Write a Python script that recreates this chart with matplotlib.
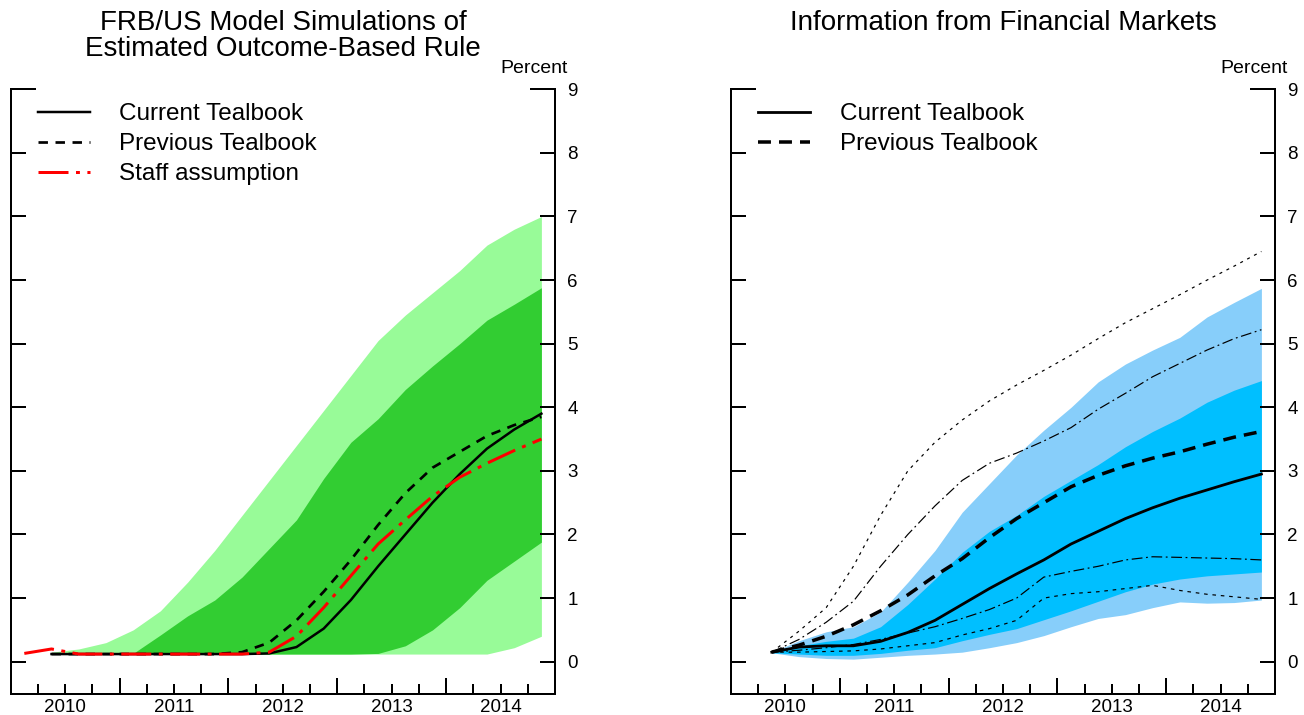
import matplotlib
matplotlib.use("Agg")
import matplotlib.pyplot as plt
import numpy as np
from matplotlib.ticker import FixedLocator, FuncFormatter, NullFormatter

plt.rcParams['font.family'] = ['Liberation Sans', 'DejaVu Sans']

# ---------------- data ----------------
# quarterly, plotted at mid-quarter
q_left_red = [2010.125 + 0.25 * i for i in range(20)]
q_main = [2010.375 + 0.25 * i for i in range(19)]

# Left panel: FRB/US simulations
left_outer_upper = [0.15, 0.2, 0.3, 0.5, 0.8, 1.25, 1.75, 2.3, 2.85, 3.4, 3.95, 4.5, 5.05, 5.45, 5.8, 6.15, 6.55, 6.8, 7.0]
left_outer_lower = [0.12] * 17 + [0.22, 0.4]
left_inner_upper = [0.12, 0.12, 0.12, 0.13, 0.42, 0.72, 0.97, 1.33, 1.78, 2.23, 2.88, 3.45, 3.82, 4.28, 4.65, 5.0, 5.37, 5.62, 5.88]
left_inner_lower = [0.12] * 12 + [0.13, 0.25, 0.5, 0.85, 1.28, 1.58, 1.88]
left_current = [0.12] * 8 + [0.13, 0.23, 0.52, 0.97, 1.5, 2.0, 2.5, 2.95, 3.35, 3.65, 3.9]
left_previous = [0.12] * 7 + [0.15, 0.3, 0.65, 1.1, 1.6, 2.15, 2.65, 3.05, 3.3, 3.55, 3.72, 3.85]
left_staff = [0.13, 0.2] + [0.12] * 7 + [0.15, 0.4, 0.85, 1.35, 1.85, 2.23, 2.6, 2.9, 3.12, 3.32, 3.5]

# Right panel: financial markets
right_outer_upper = [0.15, 0.33, 0.47, 0.55, 0.78, 1.25, 1.75, 2.35, 2.8, 3.25, 3.64, 4.0, 4.4, 4.68, 4.9, 5.1, 5.42, 5.65, 5.87]
right_outer_lower = [0.14, 0.08, 0.05, 0.04, 0.07, 0.1, 0.12, 0.15, 0.22, 0.3, 0.41, 0.55, 0.68, 0.74, 0.85, 0.94, 0.92, 0.93, 0.97]
right_inner_upper = [0.15, 0.25, 0.32, 0.37, 0.55, 0.9, 1.3, 1.72, 2.05, 2.3, 2.6, 2.85, 3.1, 3.38, 3.62, 3.83, 4.08, 4.27, 4.42]
right_inner_lower = [0.14, 0.12, 0.1, 0.1, 0.13, 0.18, 0.22, 0.33, 0.43, 0.52, 0.66, 0.8, 0.95, 1.1, 1.22, 1.3, 1.35, 1.38, 1.41]
right_current = [0.15, 0.23, 0.25, 0.25, 0.32, 0.46, 0.65, 0.9, 1.15, 1.38, 1.6, 1.85, 2.05, 2.25, 2.42, 2.57, 2.7, 2.83, 2.95]
right_previous = [0.15, 0.26, 0.4, 0.58, 0.8, 1.05, 1.35, 1.62, 1.95, 2.25, 2.5, 2.75, 2.93, 3.08, 3.2, 3.3, 3.42, 3.53, 3.62]
right_thin_top = [0.15, 0.48, 0.85, 1.5, 2.3, 3.0, 3.45, 3.8, 4.1, 4.35, 4.58, 4.82, 5.08, 5.33, 5.55, 5.77, 6.0, 6.22, 6.45]
right_thin_upper = [0.15, 0.35, 0.62, 0.95, 1.5, 2.0, 2.45, 2.85, 3.12, 3.28, 3.47, 3.68, 3.97, 4.22, 4.48, 4.69, 4.9, 5.08, 5.22]
right_thin_lower = [0.15, 0.18, 0.22, 0.27, 0.35, 0.45, 0.55, 0.68, 0.82, 1.0, 1.33, 1.42, 1.5, 1.6, 1.65, 1.64, 1.63, 1.62, 1.6]
right_thin_bottom = [0.15, 0.15, 0.16, 0.17, 0.2, 0.25, 0.3, 0.42, 0.52, 0.65, 1.0, 1.07, 1.1, 1.15, 1.2, 1.12, 1.06, 1.02, 0.98]

years = [2010, 2011, 2012, 2013, 2014]
yticks = list(range(0, 10))
titles = ["FRB/US Model Simulations of\nEstimated Outcome-Based Rule", "Information from Financial Markets"]

# ---------------- figure ----------------
W, H = 1304, 715
fig = plt.figure(figsize=(W / 100, H / 100), dpi=100)
axL = fig.add_axes([10.7 / W, 21 / H, 544.3 / W, 604.7 / H])
axR = fig.add_axes([731 / W, 21 / H, 544 / W, 604.7 / H])

PX = 0.72  # points per pixel


def style_axes(ax):
    ax.set_xlim(2010, 2015)
    ax.set_ylim(-0.508, 9.0)
    ax.spines['top'].set_visible(False)
    for s in ['left', 'right', 'bottom']:
        ax.spines[s].set_linewidth(2 * PX)
    ax.set_yticks(yticks)
    ax.tick_params(axis='y', which='both', left=True, right=True, labelleft=False,
                   labelright=True, direction='in', length=15 * PX, width=2 * PX,
                   pad=9, labelsize=13.5)
    ax.xaxis.set_major_locator(FixedLocator([y for y in years] + [2015]))
    ax.xaxis.set_major_formatter(NullFormatter())
    minor = [y + f for y in years for f in (0.25, 0.5, 0.75)]
    ax.xaxis.set_minor_locator(FixedLocator(minor))
    ax.xaxis.set_minor_formatter(FuncFormatter(
        lambda v, p: str(int(v)) if abs(v - int(v) - 0.5) < 1e-6 else ''))
    ax.tick_params(axis='x', which='major', direction='in', length=16 * PX,
                   width=2 * PX, top=False)
    ax.tick_params(axis='x', which='minor', direction='in', length=10 * PX,
                   width=2 * PX, top=False, labelsize=13.5, pad=3.5)
    t = ax.yaxis.get_major_ticks()[-1]
    t.tick1line.set_markersize(25 * PX)
    t.tick2line.set_markersize(25 * PX)
    ax.text(0.962, 1.035, "Percent", transform=ax.transAxes, ha='center',
            va='center', fontsize=14)


style_axes(axL)
style_axes(axR)

# Left panel
axL.fill_between(q_main, left_outer_lower, left_outer_upper, color='#98FB98', lw=0)
axL.fill_between(q_main, left_inner_lower, left_inner_upper, color='#32CD32', lw=0)
axL.plot(q_main, left_current, color='black', lw=2.5 * PX, label='Current Tealbook')
axL.plot(q_main, left_previous, color='black', lw=2.7 * PX, ls=(0, (3.5, 2.8)),
         label='Previous Tealbook')
axL.plot(q_left_red, left_staff, color='#FF0000', lw=3 * PX, ls=(0, (10, 2.5, 1.3, 2.5)),
         label='Staff assumption')

# Right panel
axR.fill_between(q_main, right_outer_lower, right_outer_upper, color='#87CEFA', lw=0)
axR.fill_between(q_main, right_inner_lower, right_inner_upper, color='#00BFFF', lw=0)
axR.plot(q_main, right_thin_top, color='black', lw=1.2 * PX, ls=(0, (2.5, 4)))
axR.plot(q_main, right_thin_upper, color='black', lw=1.2 * PX, ls=(0, (9, 3, 1.5, 3)))
axR.plot(q_main, right_thin_lower, color='black', lw=1.2 * PX, ls=(0, (9, 3, 1.5, 3)))
axR.plot(q_main, right_thin_bottom, color='black', lw=1.2 * PX, ls=(0, (3, 4)))
axR.plot(q_main, right_current, color='black', lw=2.8 * PX, label='Current Tealbook')
axR.plot(q_main, right_previous, color='black', lw=3.5 * PX, ls=(0, (3.7, 2.3)),
         label='Previous Tealbook')

for ax in (axL, axR):
    ax.legend(loc='upper left', bbox_to_anchor=(0.05, 0.9773), frameon=False,
              fontsize=17.5, handlelength=2.15, handletextpad=1.2, labelspacing=0.33,
              borderpad=0, borderaxespad=0)

fig.text(283 / W, 1 - 9.5 / H, titles[0], ha='center', va='top', fontsize=20,
         linespacing=1.0)
fig.text(1003 / W, 1 - 9.5 / H, titles[1], ha='center', va='top', fontsize=20)

fig.savefig("out.png", dpi=100)
